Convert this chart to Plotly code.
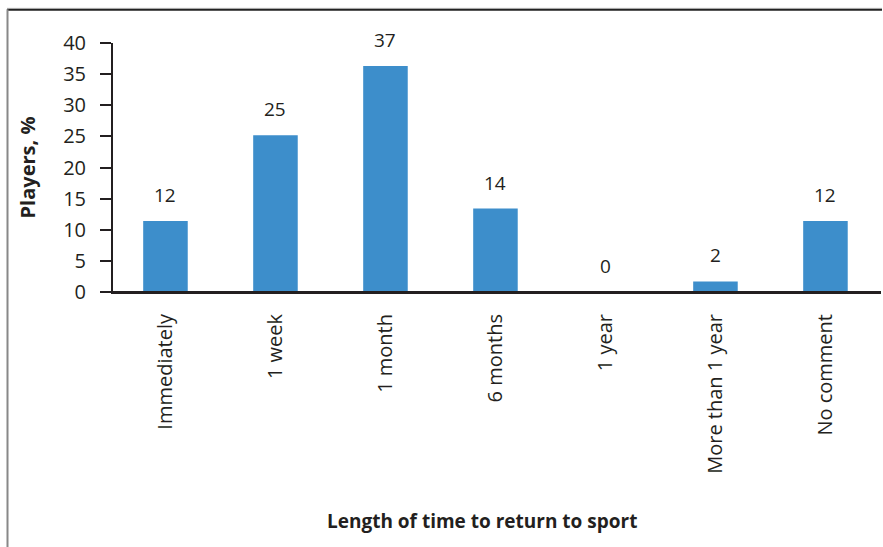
import plotly.graph_objects as go

categories = ["Immediately", "1 week", "1 month", "6 months", "1 year", "More than 1 year", "No comment"]
values = [11.4, 25.2, 36.3, 13.4, 0, 1.7, 11.4]
labels = ["12", "25", "37", "14", "0", "2", "12"]
x_title = "Length of time to return to sport"
y_title = "Players, %"

W, H = 883, 547
L, R, T, B = 113, 2, 42.7, 255.3
pw, ph = W - L - R, H - T - B

def px(x):
    return (x - L) / pw

def py(y):
    return (H - B - y) / ph

FONT = "Open Sans"
INK = "#231f20"
fig = go.Figure()
fig.add_trace(go.Bar(
    x=categories, y=values, marker_color="#3d8ecb", marker_line_width=0,
    width=0.405, hoverinfo="skip",
))
for c, v, t in zip(categories, values, labels):
    fig.add_annotation(x=c, y=v, text=t, showarrow=False, yshift=26,
                       font=dict(family=FONT, size=19, color=INK))

fig.add_annotation(xref="paper", yref="paper", x=px(482), y=py(521), text="<b>" + x_title + "</b>",
                   showarrow=False, xanchor="center", yanchor="middle",
                   font=dict(family=FONT, size=19, color=INK))

fig.update_layout(
    width=W, height=H, margin=dict(l=L, r=R, t=T, b=B),
    plot_bgcolor="white", paper_bgcolor="white", showlegend=False,
    xaxis=dict(
        range=[-0.477, 6.505], showline=True, linecolor=INK, linewidth=2,
        ticks="", tickangle=-90, ticklabelstandoff=12,
        tickfont=dict(family=FONT, size=20, color=INK),
        fixedrange=True,
    ),
    yaxis=dict(
        range=[0, 40], dtick=5, showgrid=False, zeroline=False,
        showline=True, linecolor=INK, linewidth=2,
        ticks="outside", ticklen=11, tickwidth=2, tickcolor=INK,
        ticklabelstandoff=10,
        tickfont=dict(family=FONT, size=20, color=INK),
        title=dict(text="<b>" + y_title + "</b>", standoff=22,
                   font=dict(family=FONT, size=20, color=INK)),
        fixedrange=True,
    ),
)
# baseline extension to the left (the 0 tick visually joins the axis)
fig.add_shape(type="line", xref="paper", yref="paper", x0=px(102), x1=1, y0=0, y1=0,
              line=dict(color=INK, width=2))
# frame
fig.add_shape(type="line", xref="paper", yref="paper", x0=px(7), x1=px(882), y0=py(8), y1=py(8),
              line=dict(color="#cccccc", width=1))
fig.add_shape(type="line", xref="paper", yref="paper", x0=px(7), x1=px(882), y0=py(9.5), y1=py(9.5),
              line=dict(color="#222222", width=2))
fig.add_shape(type="line", xref="paper", yref="paper", x0=px(7.5), x1=px(7.5), y0=py(9), y1=py(560),
              line=dict(color="#888888", width=2))

fig.write_html("out.html", config={"displayModeBar": False},
               post_script="document.body.style.margin='0';")
